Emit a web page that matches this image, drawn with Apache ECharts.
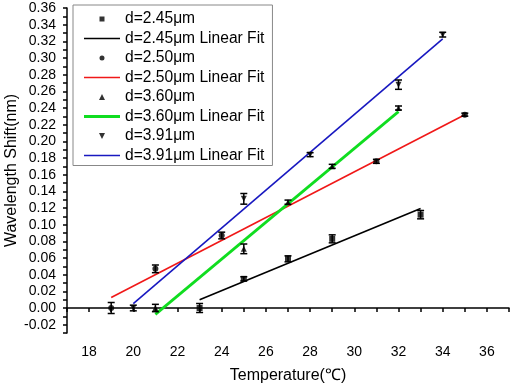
<!DOCTYPE html>
<html>
<head>
<meta charset="utf-8">
<script src="https://cdn.jsdelivr.net/npm/echarts@6/dist/echarts.min.js"></script>
<style>
  html, body { margin: 0; padding: 0; background: #fff; }
  #chart { width: 512px; height: 388px; }
</style>
</head>
<body>
<div id="chart"></div>
<script>
// data
var names = ['d=2.45μm', 'd=2.50μm', 'd=3.60μm', 'd=3.91μm'];

var temps245 = [23, 25, 27, 29, 33];
var shift245 = [0.000, 0.035, 0.059, 0.083, 0.112];
var err245   = [0.0054, 0.0025, 0.0036, 0.0048, 0.0050];

var temps250 = [19, 21, 24, 31, 35];
var shift250 = [0.000, 0.047, 0.087, 0.176, 0.232];
var err250   = [0.0066, 0.0046, 0.0040, 0.0024, 0.0018];

var temps360 = [21, 25, 27, 29, 32];
var shift360 = [0.000, 0.071, 0.127, 0.170, 0.240];
var err360   = [0.0044, 0.0058, 0.0025, 0.0024, 0.0024];

var temps391 = [20, 25, 28, 32, 34];
var shift391 = [0.000, 0.131, 0.184, 0.268, 0.328];
var err391   = [0.0034, 0.0064, 0.0024, 0.0056, 0.0028];

// linear fit end points
var fitT245 = [23, 33];  var fit245 = [0.0100, 0.1195];
var fitT250 = [19, 35];  var fit250 = [0.0125, 0.2320];
var fitT360 = [21, 32];  var fit360 = [-0.0076, 0.2356];
var fitT391 = [20, 34];  var fit391 = [0.0053, 0.3230];

var font = 'Arial, "Liberation Sans", sans-serif';

// legend icons: 36x6 box, degenerate corners keep the box size
var box = 'M0,0L0.01,0L0,0.01Z M36,6L35.99,6L36,5.99Z ';
var icons = {
    rect: 'path://' + box + 'M15.5,0.5L20.5,0.5L20.5,5.5L15.5,5.5Z',
    circle: 'path://' + box + 'M15.5,3A2.5,2.5,0,1,1,20.5,3A2.5,2.5,0,1,1,15.5,3Z',
    up: 'path://' + box + 'M18,0L21,6L15,6Z',
    down: 'path://' + box + 'M15,0L21,0L18,6Z',
    thin: 'path://' + box + 'M0,2.2L36,2.2L36,3.8L0,3.8Z',
    thick: 'path://' + box + 'M0,1.6L36,1.6L36,4.4L0,4.4Z'
};

function pairs(xs, ys) {
    return xs.map(function (x, i) { return [x, ys[i]]; });
}
function errPairs(xs, ys, es) {
    return xs.map(function (x, i) { return [x, ys[i], es[i]]; });
}

function errorBars(name, xs, ys, es) {
    return {
        name: name + ' err',
        type: 'custom',
        data: errPairs(xs, ys, es),
        renderItem: function (params, api) {
            var x = api.value(0), y = api.value(1), e = api.value(2);
            var hi = api.coord([x, y + e]);
            var lo = api.coord([x, y - e]);
            var w = 3.5;
            var st = { stroke: '#000', lineWidth: 1.5 };
            return {
                type: 'group',
                children: [
                    { type: 'line', shape: { x1: hi[0], y1: hi[1], x2: lo[0], y2: lo[1] }, style: st },
                    { type: 'line', shape: { x1: hi[0] - w, y1: hi[1], x2: hi[0] + w, y2: hi[1] }, style: st },
                    { type: 'line', shape: { x1: lo[0] - w, y1: lo[1], x2: lo[0] + w, y2: lo[1] }, style: st }
                ]
            };
        },
        z: 3
    };
}

function points(name, xs, ys, symbol, rot) {
    return {
        name: name,
        type: 'scatter',
        data: pairs(xs, ys),
        symbol: symbol,
        symbolRotate: rot || 0,
        symbolSize: 6,
        itemStyle: { color: '#000' },
        z: 4
    };
}

function fitLine(name, xs, ys, color, width) {
    return {
        name: name + ' Linear Fit',
        type: 'line',
        data: pairs(xs, ys),
        symbol: 'none',
        lineStyle: { color: color, width: width },
        itemStyle: { color: color },
        z: 2
    };
}

var option = {
    animation: false,
    textStyle: { fontFamily: font },
    grid: { left: 67, right: 3, top: 8, bottom: 55, outerBoundsMode: 'none' },
    legend: {
        orient: 'vertical',
        left: 73,
        top: 5,
        padding: [6, 8, 2, 11],
        itemWidth: 36,
        itemHeight: 6,
        itemGap: 3.5,
        borderColor: '#888',
        borderWidth: 1,
        backgroundColor: '#fff',
        textStyle: { color: '#000', fontSize: 15.6, fontFamily: font, lineHeight: 16 },
        data: [
            { name: names[0], icon: icons.rect },
            { name: names[0] + ' Linear Fit', icon: icons.thin },
            { name: names[1], icon: icons.circle },
            { name: names[1] + ' Linear Fit', icon: icons.thin },
            { name: names[2], icon: icons.up },
            { name: names[2] + ' Linear Fit', icon: icons.thick },
            { name: names[3], icon: icons.down },
            { name: names[3] + ' Linear Fit', icon: icons.thin }
        ]
    },
    xAxis: {
        type: 'value',
        min: 17,
        max: 37,
        interval: 1,
        name: 'Temperature(℃)',
        nameLocation: 'middle',
        nameGap: 35,
        nameTextStyle: { color: '#000', fontSize: 16, fontFamily: font },
        axisLine: { show: true, lineStyle: { color: '#000', width: 1.5 } },
        axisTick: { show: true, length: 4, lineStyle: { color: '#000', width: 1.5 } },
        axisLabel: {
            color: '#000', fontSize: 14, margin: 12,
            formatter: function (v) { return v % 2 === 0 ? String(v) : ''; }
        },
        splitLine: { show: false }
    },
    yAxis: {
        type: 'value',
        min: -0.03,
        max: 0.36,
        interval: 0.01,
        name: 'Wavelength Shift(nm)',
        nameLocation: 'middle',
        nameGap: 47,
        nameMoveOverlap: false,
        nameTextStyle: { color: '#000', fontSize: 16, fontFamily: font, overflow: 'none' },
        axisLine: { show: true, lineStyle: { color: '#000', width: 1.5 } },
        axisTick: { show: true, length: 4, lineStyle: { color: '#000', width: 1.5 } },
        axisLabel: {
            color: '#000', fontSize: 14, margin: 11,
            formatter: function (v) {
                var k = Math.round(v * 100);
                return k % 2 === 0 ? (k / 100).toFixed(2) : '';
            }
        },
        splitLine: { show: false }
    },
    series: [
        points(names[0], temps245, shift245, 'rect'),
        fitLine(names[0], fitT245, fit245, '#000000', 1.6),
        points(names[1], temps250, shift250, 'circle'),
        fitLine(names[1], fitT250, fit250, '#f01818', 1.6),
        points(names[2], temps360, shift360, 'triangle'),
        fitLine(names[2], fitT360, fit360, '#10dd20', 2.8),
        points(names[3], temps391, shift391, 'triangle', 180),
        fitLine(names[3], fitT391, fit391, '#1818c0', 1.6),
        errorBars(names[0], temps245, shift245, err245),
        errorBars(names[1], temps250, shift250, err250),
        errorBars(names[2], temps360, shift360, err360),
        errorBars(names[3], temps391, shift391, err391)
    ]
};

var myChart = echarts.init(document.getElementById('chart'));
myChart.setOption(option);
</script>
</body>
</html>
